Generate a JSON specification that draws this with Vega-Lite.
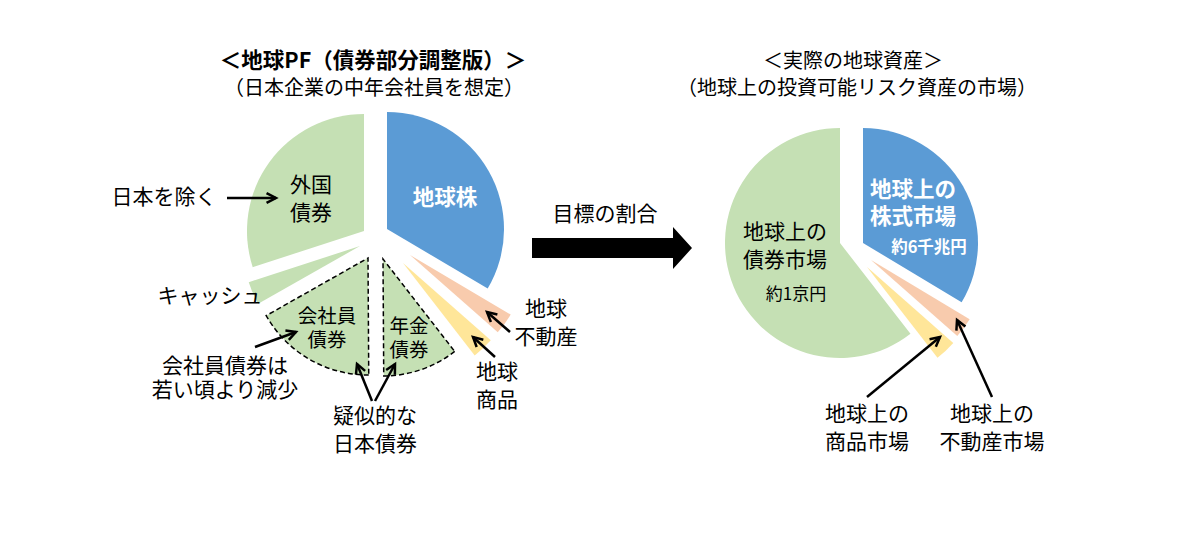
{
  "$schema": "https://vega.github.io/schema/vega-lite/v6.json",
  "width": 1200,
  "height": 541,
  "autosize": {"type": "fit", "contains": "padding"},
  "padding": 0,
  "background": "white",
  "config": {"view": {"stroke": null}, "font": "Noto Sans CJK JP"},
  "datasets": {
    "slices": [
      {"pie": "left", "name": "地球株", "share": 33.5, "order": 1},
      {"pie": "left", "name": "地球不動産", "share": 3.0, "order": 2},
      {"pie": "left", "name": "地球商品", "share": 3.0, "order": 3},
      {"pie": "left", "name": "年金債券", "share": 10.4, "order": 4},
      {"pie": "left", "name": "会社員債券", "share": 16.9, "order": 5},
      {"pie": "left", "name": "キャッシュ", "share": 3.2, "order": 6},
      {"pie": "left", "name": "外国債券", "share": 30.0, "order": 7},
      {"pie": "right", "name": "地球上の株式市場", "share": 33.6, "order": 1},
      {"pie": "right", "name": "地球上の不動産市場", "share": 2.9, "order": 2},
      {"pie": "right", "name": "地球上の商品市場", "share": 3.0, "order": 3},
      {"pie": "right", "name": "地球上の債券市場", "share": 60.5, "order": 4}
    ],
    "titleBold": [
      {"text": "＜地球PF（債券部分調整版）＞", "x": 373, "y": 62}
    ],
    "titleReg": [
      {"text": "（日本企業の中年会社員を想定）", "x": 374, "y": 89},
      {"text": "＜実際の地球資産＞", "x": 853, "y": 62},
      {"text": "（地球上の投資可能リスク資産の市場）", "x": 857, "y": 89}
    ],
    "labelBlack": [
      {"text": "外国\n債券", "x": 311, "y": 186},
      {"text": "日本を除く", "x": 164, "y": 198},
      {"text": "キャッシュ", "x": 210, "y": 297},
      {"text": "疑似的な\n日本債券", "x": 375, "y": 417},
      {"text": "地球\n不動産", "x": 546, "y": 310},
      {"text": "地球\n商品", "x": 497, "y": 373},
      {"text": "目標の割合", "x": 605, "y": 215},
      {"text": "地球上の\n債券市場", "x": 785, "y": 233},
      {"text": "地球上の\n商品市場", "x": 867, "y": 415},
      {"text": "地球上の\n不動産市場", "x": 992, "y": 415}
    ],
    "labelTight": [
      {"text": "会社員債券は\n若い頃より減少", "x": 225, "y": 367}
    ],
    "labelDashed": [
      {"text": "会社員\n債券", "x": 327, "y": 317},
      {"text": "年金\n債券", "x": 409, "y": 327}
    ],
    "labelWhite": [
      {"text": "地球株", "x": 445, "y": 199},
      {"text": "地球上の\n株式市場", "x": 913, "y": 191}
    ],
    "smallWhite": [
      {"text": "約6千兆円", "x": 929, "y": 248}
    ],
    "smallBlack": [
      {"text": "約1京円", "x": 796, "y": 295}
    ],
    "arrows": [
      {"x": 227, "y": 198, "x2": 276, "y2": 198},
      {"x": 255, "y": 347, "x2": 296, "y2": 332},
      {"x": 372, "y": 401, "x2": 357, "y2": 364},
      {"x": 375, "y": 401, "x2": 395, "y2": 364},
      {"x": 510, "y": 332, "x2": 487, "y2": 312},
      {"x": 495, "y": 357, "x2": 473, "y2": 337},
      {"x": 867, "y": 397, "x2": 940, "y2": 337},
      {"x": 992, "y": 397, "x2": 957, "y2": 320}
    ],
    "bigArrow": [
      {"label": "目標の割合", "x": 612, "y": 248}
    ]
  },
  "layer": [
    {
      "data": {"name": "slices"},
      "transform": [
        {"stack": "share", "groupby": ["pie"], "sort": [{"field": "order", "order": "ascending"}], "as": ["t0", "t1"]}
      ],
      "encoding": {
        "theta": {"field": "t0", "type": "quantitative", "stack": null, "scale": {"domain": [0, 100], "range": [0, 6.283185307179586]}},
        "theta2": {"field": "t1"}
      },
      "layer": [
        {
          "layer": [
            {"transform": [{"filter": "datum.name === '地球株'"}], "mark": {"type": "arc", "radius": 117, "xOffset": 12, "yOffset": -13, "color": "#5B9BD5"}},
            {"transform": [{"filter": "datum.name === '地球不動産'"}], "mark": {"type": "arc", "radius": 117, "xOffset": 35, "yOffset": 13, "color": "#F8CBAD"}},
            {"transform": [{"filter": "datum.name === '地球商品'"}], "mark": {"type": "arc", "radius": 117, "xOffset": 28, "yOffset": 21, "color": "#FFE699"}},
            {"transform": [{"filter": "datum.name === '年金債券'"}], "mark": {"type": "arc", "radius": 117, "xOffset": 8, "yOffset": 17, "fill": "#C5E0B4", "stroke": "black", "strokeWidth": 1.5, "strokeDash": [5, 3]}},
            {"transform": [{"filter": "datum.name === '会社員債券'"}], "mark": {"type": "arc", "radius": 117, "xOffset": -7, "yOffset": 16, "fill": "#C5E0B4", "stroke": "black", "strokeWidth": 1.5, "strokeDash": [5, 3]}},
            {"transform": [{"filter": "datum.name === 'キャッシュ'"}], "mark": {"type": "arc", "radius": 117, "xOffset": -15, "yOffset": 4, "color": "#C5E0B4"}},
            {"transform": [{"filter": "datum.name === '外国債券'"}], "mark": {"type": "arc", "radius": 117, "xOffset": -11, "yOffset": -11, "color": "#C5E0B4"}}
          ],
          "encoding": {
            "x": {"datum": 375, "type": "quantitative", "scale": {"domain": [0, 1200], "nice": false, "zero": false}, "axis": null},
            "y": {"datum": 242, "type": "quantitative", "scale": {"domain": [0, 541], "nice": false, "zero": false, "reverse": true}, "axis": null}
          }
        },
        {
          "layer": [
            {"transform": [{"filter": "datum.name === '地球上の株式市場'"}], "mark": {"type": "arc", "radius": 115, "xOffset": 12, "yOffset": -3, "color": "#5B9BD5"}},
            {"transform": [{"filter": "datum.name === '地球上の不動産市場'"}], "mark": {"type": "arc", "radius": 115, "xOffset": 20, "yOffset": 14, "color": "#F8CBAD"}},
            {"transform": [{"filter": "datum.name === '地球上の商品市場'"}], "mark": {"type": "arc", "radius": 115, "xOffset": 16, "yOffset": 21, "color": "#FFE699"}},
            {"transform": [{"filter": "datum.name === '地球上の債券市場'"}], "mark": {"type": "arc", "radius": 115, "xOffset": -11, "yOffset": -3, "color": "#C5E0B4"}}
          ],
          "encoding": {
            "x": {"datum": 851, "type": "quantitative", "scale": {"domain": [0, 1200], "nice": false, "zero": false}, "axis": null},
            "y": {"datum": 246, "type": "quantitative", "scale": {"domain": [0, 541], "nice": false, "zero": false, "reverse": true}, "axis": null}
          }
        }
      ]
    },
    {
      "encoding": {
        "x": {"field": "x", "type": "quantitative", "scale": {"domain": [0, 1200], "nice": false, "zero": false}, "axis": null},
        "y": {"field": "y", "type": "quantitative", "scale": {"domain": [0, 541], "nice": false, "zero": false, "reverse": true}, "axis": null}
      },
      "layer": [
        {
          "data": {"name": "bigArrow"},
          "mark": {"type": "point", "shape": "M -1 -0.125 L 0.7625 -0.125 L 0.7625 -0.2625 L 1 0 L 0.7625 0.2625 L 0.7625 0.125 L -1 0.125 Z", "size": 25600, "filled": true, "color": "black", "opacity": 1, "strokeWidth": 0}
        },
        {
          "data": {"name": "arrows"},
          "mark": {"type": "rule", "color": "black", "strokeWidth": 2.5},
          "encoding": {
            "x2": {"field": "x2"},
            "y2": {"field": "y2"}
          }
        },
        {
          "data": {"name": "arrows"},
          "transform": [
            {"calculate": "atan2(datum.x2 - datum.x, -(datum.y2 - datum.y)) * 180 / PI", "as": "ang"}
          ],
          "mark": {"type": "point", "shape": "M -0.55 1.05 L 0 0 L 0.55 1.05", "size": 324, "filled": false, "stroke": "black", "strokeWidth": 2.5, "opacity": 1, "strokeJoin": "miter"},
          "encoding": {
            "x": {"field": "x2", "type": "quantitative", "scale": {"domain": [0, 1200], "nice": false, "zero": false}, "axis": null},
            "y": {"field": "y2", "type": "quantitative", "scale": {"domain": [0, 541], "nice": false, "zero": false, "reverse": true}, "axis": null},
            "angle": {"field": "ang", "type": "quantitative", "scale": null}
          }
        },
        {
          "data": {"name": "titleBold"},
          "mark": {"type": "text", "fontSize": 21.5, "fontWeight": "bold", "color": "black", "baseline": "middle", "align": "center"},
          "encoding": {"text": {"field": "text"}}
        },
        {
          "data": {"name": "titleReg"},
          "mark": {"type": "text", "fontSize": 20, "color": "black", "baseline": "middle", "align": "center"},
          "encoding": {"text": {"field": "text"}}
        },
        {
          "data": {"name": "labelBlack"},
          "mark": {"type": "text", "fontSize": 21, "lineBreak": "\n", "lineHeight": 27.5, "color": "black", "baseline": "middle", "align": "center"},
          "encoding": {"text": {"field": "text"}}
        },
        {
          "data": {"name": "labelTight"},
          "mark": {"type": "text", "fontSize": 21, "lineBreak": "\n", "lineHeight": 24, "color": "black", "baseline": "middle", "align": "center"},
          "encoding": {"text": {"field": "text"}}
        },
        {
          "data": {"name": "labelDashed"},
          "mark": {"type": "text", "fontSize": 19.5, "lineBreak": "\n", "lineHeight": 24, "color": "black", "baseline": "middle", "align": "center"},
          "encoding": {"text": {"field": "text"}}
        },
        {
          "data": {"name": "labelWhite"},
          "mark": {"type": "text", "fontSize": 21.5, "fontWeight": "bold", "lineBreak": "\n", "lineHeight": 27, "color": "white", "baseline": "middle", "align": "center"},
          "encoding": {"text": {"field": "text"}}
        },
        {
          "data": {"name": "smallWhite"},
          "mark": {"type": "text", "fontSize": 16.5, "fontWeight": "bold", "color": "white", "baseline": "middle", "align": "center"},
          "encoding": {"text": {"field": "text"}}
        },
        {
          "data": {"name": "smallBlack"},
          "mark": {"type": "text", "fontSize": 17, "color": "black", "baseline": "middle", "align": "center"},
          "encoding": {"text": {"field": "text"}}
        }
      ]
    }
  ]
}
